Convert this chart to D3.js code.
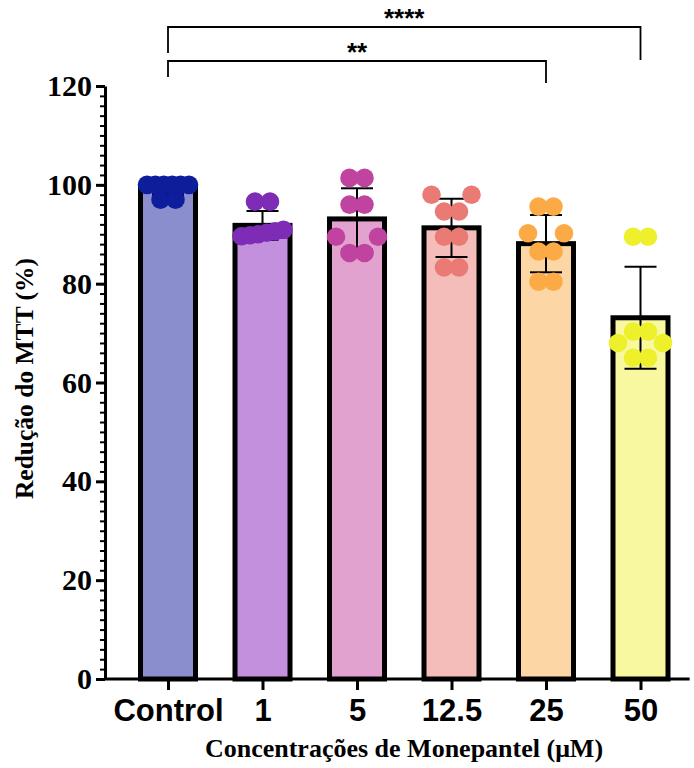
<!DOCTYPE html>
<html><head><meta charset="utf-8">
<script src="https://cdn.jsdelivr.net/npm/d3@7"></script>
<style>body{margin:0;background:#fff}</style>
</head><body><svg id="c" width="694" height="768"></svg>
<script>
// ---------- data ----------
const categories = ["Control", "1", "5", "12.5", "25", "50"];
const means = [99.3, 91.8, 93.1, 91.3, 88.1, 73.1];
const sds = [1.3, 2.9, 6.2, 5.9, 5.8, 10.3];
const pointsControl = [100, 100, 100, 100, 100, 100, 97.0, 97.0];
const points1 = [96.6, 96.6, 90.9, 90.6, 90.3, 90.0, 89.8, 89.6];
const points5 = [101.4, 101.4, 96.0, 96.0, 89.5, 89.5, 86.2, 86.2];
const points12_5 = [98.0, 98.0, 94.6, 94.6, 89.5, 89.5, 83.3, 83.3];
const points25 = [95.6, 95.6, 90.2, 90.2, 86.5, 86.5, 80.4, 80.4];
const points50 = [89.5, 89.5, 70.3, 70.3, 68.0, 68.0, 65.0, 65.0];
const yTicks = [0, 20, 40, 60, 80, 100, 120];
const comparisons = [
  {from: "Control", to: "50", label: "****"},
  {from: "Control", to: "25", label: "**"}
];
const yTitle = "Redução do MTT (%)";
const xTitle = "Concentrações de Monepantel (μM)";

// ---------- styles ----------
const barFill = ["#8A8ECC", "#C290DC", "#E2A2CF", "#F4BDB9", "#FDD6A5", "#F7F89F"];
const dotFill = ["#0E1D9C", "#7E2BB6", "#C0449F", "#E97A74", "#FCAA45", "#EEF02B"];
const allPoints = [pointsControl, points1, points5, points12_5, points25, points50];

const svg = d3.select("#c");
const x = d3.scalePoint().domain(categories).range([168, 640.5]);
const y = d3.scaleLinear().domain([0, 120]).range([679, 86]);
const barW = 55;
const r = 9.3;

// ---------- axes ----------
const minor = d3.axisLeft(y).tickValues(d3.range(0, 121, 2)).tickSize(5).tickFormat("").tickSizeOuter(0);
const gMinor = svg.append("g").attr("transform", `translate(${105},0)`).call(minor);
gMinor.select(".domain").remove();
gMinor.selectAll("line").attr("stroke", "#000").attr("stroke-width", 2);

const yAxis = d3.axisLeft(y).tickValues(yTicks).tickSize(9).tickSizeOuter(0).tickPadding(4);
const gy = svg.append("g").attr("transform", `translate(${105},0)`).call(yAxis);
gy.select(".domain").attr("stroke", "#000").attr("stroke-width", 3);
gy.selectAll(".tick line").attr("stroke", "#000").attr("stroke-width", 3);
gy.selectAll(".tick text")
  .attr("font-family", "'Liberation Serif', 'Times New Roman', serif")
  .attr("font-weight", "bold").attr("font-size", 30).attr("fill", "#000");

// ---------- bars ----------
const g = svg.append("g");
categories.forEach((c, i) => {
  g.append("rect")
    .attr("x", x(c) - barW / 2).attr("width", barW)
    .attr("y", y(means[i])).attr("height", y(0) - y(means[i]))
    .attr("fill", barFill[i]).attr("stroke", "#000").attr("stroke-width", 5);
});

// x axis
const step = x.step();
const xAxis = d3.axisBottom(x).tickSize(11).tickSizeOuter(0).tickPadding(9);
const gx = svg.append("g").attr("transform", `translate(0,${y(0)})`).call(xAxis);
gx.select(".domain").attr("d", `M${105},0H${x(categories[categories.length - 1]) + step * 0.52}`)
  .attr("stroke", "#000").attr("stroke-width", 3);
gx.selectAll(".tick line").attr("stroke", "#000").attr("stroke-width", 3);
gx.selectAll(".tick text")
  .attr("font-family", "'Liberation Sans', Arial, sans-serif")
  .attr("font-weight", "bold").attr("font-size", 31).attr("fill", "#000")
  .attr("dy", "0.71em");

// ---------- error bars ----------
const cap = 16;
categories.forEach((c, i) => {
  const cx = x(c), hi = y(means[i] + sds[i]), lo = y(means[i] - sds[i]);
  const eg = g.append("g").attr("stroke", "#000").attr("stroke-width", 2);
  eg.append("line").attr("x1", cx).attr("x2", cx).attr("y1", hi).attr("y2", lo);
  eg.append("line").attr("x1", cx - cap).attr("x2", cx + cap).attr("y1", hi).attr("y2", hi);
  eg.append("line").attr("x1", cx - cap).attr("x2", cx + cap).attr("y1", lo).attr("y2", lo);
});

// ---------- dots (row-based swarm layout) ----------
function swarm(values) {
  const Dc = 21, maxHalf = 23, base = 7.5;
  const sorted = values.slice().sort((a, b) => a - b);
  const rows = [];
  sorted.forEach(v => {
    const last = rows[rows.length - 1];
    if (last && v - last[last.length - 1] < 1.0) last.push(v); else rows.push([v]);
  });
  const placed = [];
  rows.forEach(row => {
    const k = row.length;
    if (k > 2) {
      const s = Math.min(15, 2 * 21 / (k - 1));
      row.forEach((v, i) => placed.push({v, dx: (i - (k - 1) / 2) * s}));
      return;
    }
    let best = null;
    for (let c = -15; c <= 15; c += 0.5) {
      for (let h = base; h <= 23; h += 0.5) {
        if (Math.abs(c) + h > maxHalf) continue;
        const pts = k === 2 ? [c - h, c + h] : [c];
        let ov = 0;
        pts.forEach((dx, j) => {
          placed.forEach(p => {
            const d = Math.hypot(dx - p.dx, y(row[j]) - y(p.v));
            if (d < Dc) ov += (Dc - d) * (Dc - d);
          });
        });
        const cost = ov * 20 + Math.abs(c) + 0.5 * (h - base);
        if (!best || cost < best.cost - 1e-9) best = {cost, pts};
        if (k === 1) break;
      }
    }
    best.pts.forEach((dx, j) => placed.push({v: row[j], dx}));
  });
  return placed;
}

categories.forEach((c, i) => {
  const pts = swarm(allPoints[i]);
  g.selectAll(null).data(pts).enter().append("circle")
    .attr("cx", d => x(c) + d.dx).attr("cy", d => y(d.v)).attr("r", r)
    .attr("fill", dotFill[i]);
});

// ---------- significance brackets ----------
const levels = [27, 61];
const legL = [26, 16], legR = [33, 22];
comparisons.forEach((cmp, k) => {
  const x1 = x(cmp.from), x2 = x(cmp.to), ly = levels[k];
  svg.append("path")
    .attr("d", `M${x1},${ly + legL[k]}V${ly}H${x2}V${ly + legR[k]}`)
    .attr("fill", "none").attr("stroke", "#000").attr("stroke-width", 1.8);
  svg.append("text").attr("x", (x1 + x2) / 2).attr("y", ly)
    .attr("text-anchor", "middle")
    .attr("font-family", "'Liberation Sans', Arial, sans-serif")
    .attr("font-weight", "bold").attr("font-size", 26).text(cmp.label);
});

// ---------- titles ----------
svg.append("text")
  .attr("transform", `translate(33,${(y(0) + y(120)) / 2 - 4}) rotate(-90)`)
  .attr("text-anchor", "middle")
  .attr("font-family", "'Liberation Serif', 'Times New Roman', serif")
  .attr("font-weight", "bold").attr("font-size", 25.5).text(yTitle);

svg.append("text")
  .attr("x", 404).attr("y", 757)
  .attr("text-anchor", "middle")
  .attr("font-family", "'Liberation Serif', 'Times New Roman', serif")
  .attr("font-weight", "bold").attr("font-size", 26).text(xTitle);
</script>
</body></html>
